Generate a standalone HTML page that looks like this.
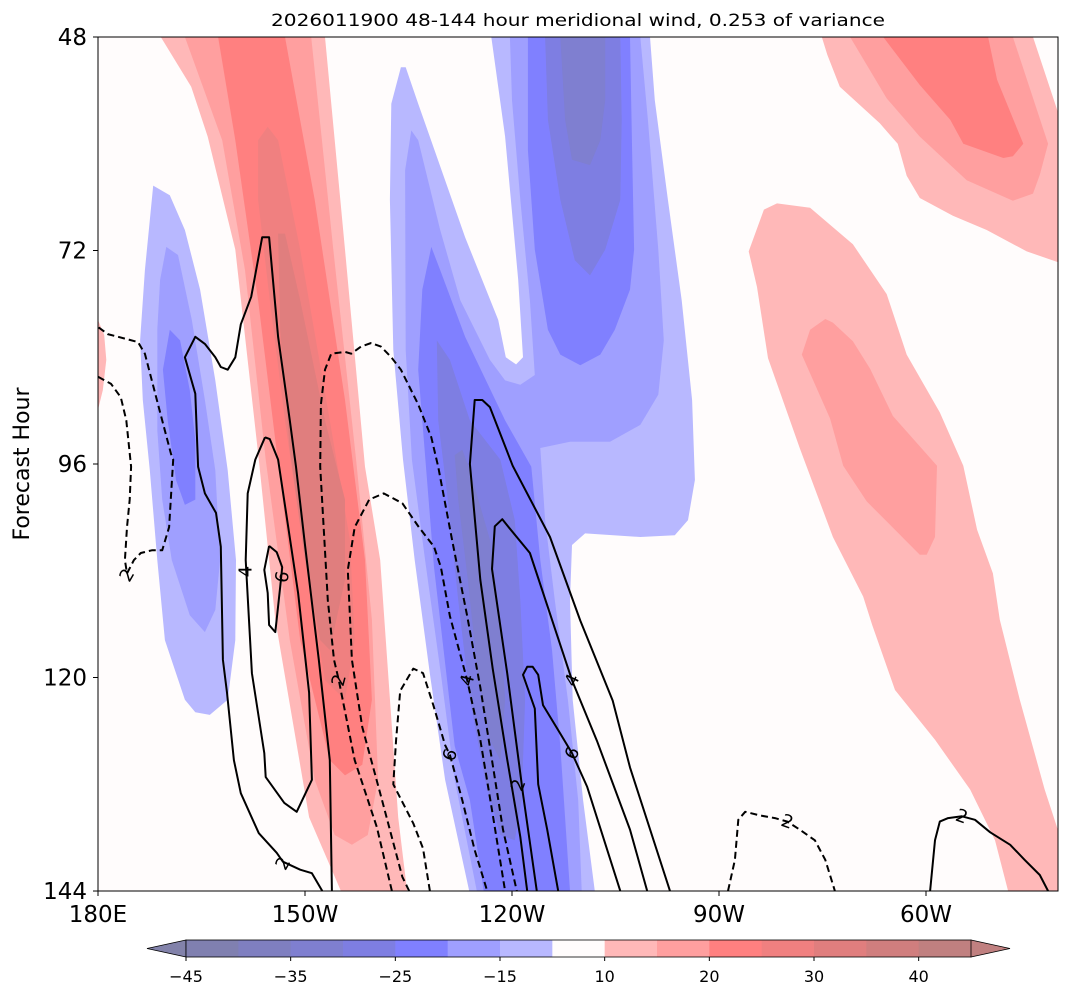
<!DOCTYPE html>
<html><head><meta charset="utf-8"><style>
body{margin:0;background:#fff;}
svg{display:block;font-family:"DejaVu Sans","Liberation Sans",sans-serif;}
</style></head><body>
<svg id="chart" width="1069" height="997" viewBox="0 0 1069 997" xmlns="http://www.w3.org/2000/svg">
<defs><clipPath id="plotclip"><rect x="98" y="37" width="960" height="854"/></clipPath></defs>
<rect x="98" y="37" width="960" height="854" fill="#fffcfc"/>
<g id="fills" clip-path="url(#plotclip)"></g>
<g id="lines" clip-path="url(#plotclip)"></g>
<g id="labels"></g>
<rect x="98" y="37" width="960" height="854" fill="none" stroke="#000" stroke-width="1"/>
<text x="578" y="26" text-anchor="middle" font-size="17" textLength="614" lengthAdjust="spacingAndGlyphs">2026011900 48-144 hour meridional wind, 0.253 of variance</text>
<text transform="translate(29,464) rotate(-90)" text-anchor="middle" font-size="22">Forecast Hour</text>
<g id="axes"></g>
<g id="cbar"></g>
</svg>
<script>
// ---- axis data ----
const xTickValues = [180, 210, 240, 270, 300];
const xTickLabels = ["180E", "150W", "120W", "90W", "60W"];
const yTickValues = [48, 72, 96, 120, 144];
const yTickLabels = ["48", "72", "96", "120", "144"];
const cbarLevels = [-45,-40,-35,-30,-25,-20,-15,-10,10,15,20,25,30,35,40,45];
const cbarTickValues = [-45,-35,-25,-15,10,20,30,40];
const cbarColors = ["#8080b0","#7f7fc0","#7f7fd0","#7e7ee2","#8080ff","#9f9fff","#b8b8ff","#fffcfc","#ffb8b8","#ff9f9f","#ff8080","#f08080","#e07e7e","#d07e7e","#c08080"];

// ---- filled contour polygons (lon, hour), with level index into cbarColors ----
const redBandL1 = [[189.1,48],[212.9,48],[215.8,71.9],[218.7,96.3],[220.9,106.8],[223.5,135.7],[224.8,144],[215.2,144],[210.6,135.7],[205.7,113.5],[203.3,95.5],[199.9,71.9],[195.9,59.2],[193.5,53.6]];
const redBandL2 = [[192.6,48],[210.9,48],[214.1,71.9],[217.4,95.5],[219.7,113.5],[220.6,131.5],[219.1,137.7],[216.8,138.8],[214.3,137.7],[211.4,131.5],[207.8,115.8],[204.3,95.5],[201.3,74.2],[198,59.6]];
const redBandL3 = [[197.4,48],[207.1,48],[211.4,66.3],[215.8,88.8],[218.7,106.8],[219.7,122.5],[218.3,129.8],[215.8,131],[213.6,129.3],[209.3,115.8],[206.4,97.8],[203.2,77.6],[199.9,59.6]];
const redBandL4 = [[203.2,59.6],[204.6,58.1],[206.1,59.6],[209.3,71.9],[213.6,91.1],[216.5,104.5],[217.2,115.8],[215.8,122.5],[212.9,120.3],[210,106.8],[207.1,91.1],[204.9,77.6],[203.2,66.3]];
const redBandL5 = [[206.1,70.1],[207.1,70.1],[209.3,77.6],[212.9,91.1],[215.8,100],[215.8,109],[213.6,116.9],[212.2,115.8],[210,106.8],[207.8,94.4],[206.4,80.9]];
const redEdgeL1 = [[180,79.8],[180.9,81.5],[181.2,84.3],[180.7,87.7],[180,89.9]];
const blueWestL1 = [[188,64.7],[190.4,65.8],[192.6,69.7],[194.8,76.4],[197,86.6],[198.8,96.7],[200,106.8],[199.9,115.8],[198.8,122.5],[196.2,124.2],[194.1,123.9],[192.6,122.5],[189.7,115.8],[188.6,106.8],[187.5,96.7],[186.5,88.8],[186.1,82.1],[186.8,74.2]];
const blueWestL2 = [[189.9,71.6],[191.6,72.5],[193.6,79.8],[195.5,88.8],[197,96.7],[197.7,106.8],[197,112.4],[195.5,114.9],[193.3,113],[190.7,106.8],[189.3,100],[188.6,92.2],[188.6,80.9],[189,75.3]];
const blueWestL3 = [[190.4,80.9],[191.9,82.1],[193.3,87.7],[194.1,93.3],[194.1,100],[192.6,100.6],[191.3,97.8],[190.1,91.1],[189.4,85.4]];
const blueMidL1 = [[237,48],[260,48],[260.7,55.1],[262.6,66.3],[264.6,77.6],[266.1,88.8],[266.5,97.8],[265.5,102.3],[263.6,104],[258.6,104.2],[250.6,103.8],[248.7,105.1],[248.4,111.3],[248.8,122.5],[250.3,133.8],[252,144],[233.8,144],[230.3,131.5],[228.1,119.6],[225.9,106.8],[224.2,95.5],[222.8,83.2],[222.3,66.3],[222.5,55.5],[223.9,51.4],[224.6,51.4],[226.4,55.5],[230.3,64.1],[233.2,70.5],[238,79.8],[239.1,84],[240.6,84.8],[241.6,84],[240.9,75.3],[239,59.2]];
const blueMidL2 = [[239.7,48],[258.6,48],[259.7,57.3],[261.2,71.9],[262,82.1],[261.2,88.2],[258.6,91.6],[254.2,93.5],[248.4,93.5],[244.1,94.2],[244.8,102.3],[246.2,111.3],[248.1,122.5],[249.6,133.8],[250.1,144],[234.9,144],[231.7,131.5],[229.7,119.6],[227.4,106.8],[225.5,95.5],[224.6,83.2],[224.5,63],[225.4,58.5],[226.4,59.6],[229.6,69.7],[232.5,77.6],[236.8,84.3],[239,86.6],[241.2,87.1],[243.3,86],[242.6,77.6],[241.2,66.3],[240,55.1]];
const blueTopL3 = [[242.3,48],[257.1,48],[257.4,60.7],[257.7,71.9],[257.1,76.4],[254.9,80.9],[252.8,83.7],[249.9,84.9],[247,83.7],[245.2,80.9],[243.3,71.9],[242.3,60.7]];
const blueTopL4 = [[244.8,48],[255.7,48],[255.9,57.3],[255.7,66.3],[253.5,71.9],[251.3,74.8],[249.1,73.1],[247,66.3],[245.2,57.3]];
const blueTopL5 = [[247,48],[253.5,48],[253.5,55.1],[252.8,59.6],[251.3,62.4],[248.7,61.8],[247.7,57.3]];
const blueDiagL3 = [[228.3,71.6],[229.6,74.2],[233.2,81.7],[239,91.1],[242.8,96.3],[244.1,106.8],[245.8,116.9],[247,127.7],[248.4,144],[235.9,144],[233.9,133.8],[231.7,127.7],[228.7,107.6],[226.4,85.4],[227,76.4]];
const blueDiagL4 = [[229.1,82.1],[231,84.3],[233.9,91.1],[238.3,95.5],[240.4,102.3],[241.2,111.3],[241.9,122.5],[241.4,133.8],[240.4,138.3],[238.3,137.7],[236.1,131.5],[233.9,122.5],[232.2,111.3],[230.7,100],[229.3,91.1]];
const blueDiagL5 = [[231.7,95],[232.8,94.4],[233.9,96.7],[236.8,104.5],[238.3,113.5],[239,122.5],[238.3,129.3],[236.8,127],[235.1,120],[233.6,109],[232.2,100]];
const redNEL1 = [[284.9,48],[315.5,48],[319.1,56.4],[319.1,73.3],[314.6,72.1],[308.8,69.7],[303.9,68.1],[299.1,66.1],[297.2,63.6],[295.9,60],[293.3,57.7],[287.5,53.6],[285.7,50]];
const redNEL2 = [[289,48],[312.6,48],[317.7,60],[316.5,63.5],[315.5,65.6],[312.6,66.4],[305.9,64.1],[299.1,59.2],[294.3,54.9]];
const redNEL3 = [[293.8,48],[309,48],[310.3,52.8],[314.1,60],[312.6,61.4],[311.2,61.6],[305.4,60],[303.5,57.3],[299.1,53.4]];
const redEastL1 = [[274.3,72.1],[276.5,67.4],[278.4,66.7],[283.2,67.2],[289.4,71.3],[294.3,76.9],[297.2,83.7],[302,90.2],[305.4,96.2],[307.4,103.4],[309.7,108.3],[310.7,113.5],[313.6,122.5],[317.2,132.6],[319.1,137.1],[319.1,144],[311.9,144],[310,138.3],[306.4,132.6],[301.3,127],[295.5,121.4],[292.2,114.1],[290.9,110.9],[286.5,104.2],[281.7,94.2],[277.1,84.1],[275.5,76.1]];
const redEastL2 = [[285.4,79.7],[283.2,80.9],[282,83.7],[286.1,90.9],[288,96.2],[291.4,100.2],[299.1,106.2],[300.1,106.2],[301.3,104.2],[301.6,96.2],[295.2,90.6],[291.9,85.3],[289.4,82.2],[286.5,80.1]];

const fillPolys = [
  ["red-band-10", 8, redBandL1], ["red-band-15", 9, redBandL2], ["red-band-20", 10, redBandL3],
  ["red-band-25", 11, redBandL4], ["red-band-30", 12, redBandL5], ["red-edge-10", 8, redEdgeL1],
  ["blue-west-10", 6, blueWestL1], ["blue-west-15", 5, blueWestL2], ["blue-west-20", 4, blueWestL3],
  ["blue-mid-10", 6, blueMidL1], ["blue-mid-15", 5, blueMidL2],
  ["blue-top-20", 4, blueTopL3], ["blue-top-25", 3, blueTopL4], ["blue-top-30", 2, blueTopL5],
  ["blue-diag-20", 4, blueDiagL3], ["blue-diag-25", 3, blueDiagL4], ["blue-diag-30", 2, blueDiagL5],
  ["red-ne-10", 8, redNEL1], ["red-ne-15", 9, redNEL2], ["red-ne-20", 10, redNEL3],
  ["red-east-10", 8, redEastL1], ["red-east-15", 9, redEastL2]
];

// ---- line contours (lon, hour) ----
const solidTall = [[212.5,144],[211,142],[209.3,141.6],[206.8,140.7],[205.9,139.7],[203.3,137.5],[200.7,133],[199.7,129.3],[198.7,121.7],[198.1,118],[197.8,105.3],[197.1,101.5],[195.5,99.3],[194.5,96.3],[194.1,88.1],[192.6,84],[194.1,81.7],[195.5,82.5],[197,84],[197.8,85.1],[198.8,85.4],[199.9,84],[200.7,80.3],[202.2,77.2],[203.8,70.5],[204.8,70.5],[206.1,81.7],[207.8,91.1],[208.7,96.3],[210,105.1],[212,118],[213.6,129.3],[213.9,144]];
const solidLoop4 = [[204.2,93],[204.9,93.2],[206.1,95.5],[209,110.5],[210.6,121.7],[211,131.5],[208.8,135.1],[207,134.1],[204.3,131.2],[204.1,128.5],[202.3,119.5],[201.4,106.8],[201.7,99.3],[202.8,95.5],[204.2,93]];
const solidLoop6 = [[204.8,105.2],[205.9,105.9],[206.7,107.6],[206.4,109.8],[205.7,114.9],[204.8,114.1],[204.6,110.5],[204.1,107.9],[204.8,105.2]];
const solidMid2 = [[242.2,144],[241.2,137.9],[239.3,129.2],[237.2,119],[235.4,109],[233.9,96],[234.6,88.8],[235.7,88.8],[236.8,89.6],[240.1,96.2],[245.5,104.2],[249.9,113.6],[254.6,122.6],[257.1,130.1],[262.9,144]];
const solidMid4 = [[243.6,144],[241.6,133.1],[239.3,119.5],[237.1,107.8],[237.5,103],[238.6,102.2],[239.4,103],[242.6,106],[248.7,120.3],[252.3,127.1],[257.1,137.1],[259.6,144]];
const solidMid6 = [[246.7,144],[245.1,137.1],[243.8,132],[243.3,123.5],[241.6,119.7],[242.2,118.8],[243,118.8],[243.8,119.7],[244.5,123.1],[247,126.3],[248.7,128.5],[250.9,132.3],[255.7,144]];
const solidEast = [[300.6,144],[301.3,138.3],[302,136.2],[303.2,135.8],[305.2,135.6],[307.1,136],[309.3,137.4],[312.2,138.8],[314.3,140.5],[316.5,142.2],[317.7,144]];
const dashWest = [[180,86.2],[181.9,87],[183.3,88.5],[184.1,91.1],[184.8,96.3],[184.6,100],[184.2,103.1],[183.9,106.8],[184.2,108.3],[185.2,106.8],[186.2,106],[187.8,105.7],[189.3,105.7],[190.3,103.1],[190.9,95.5],[190.6,94.9],[188.7,89.3],[186.8,83.6],[185.8,82.3],[182.9,81.7],[181.4,81.4],[180,80.6]];
const dashArch2 = [[222.6,144],[220.4,136.8],[217.2,129.3],[214.9,120.3],[214.2,118],[213.3,111.3],[212.2,96.3],[212.3,89.3],[212.9,85.4],[213.8,83.6],[215.8,83.4],[216.7,83.6],[218.1,82.8],[219.6,82.4],[221,82.8],[222.5,84],[223.9,85.4],[226.4,89.3],[228.3,93],[229.3,96.3],[231.3,104.5],[233.5,113.1],[235.4,121.1],[237.1,129.3],[238.7,137.1],[240.7,144]];
const dashArch4 = [[225.1,144],[224.1,142.4],[220.9,133],[218.3,125.6],[216.8,118],[216.2,107.9],[217.2,103.1],[219.3,100],[221.4,99.3],[224.1,100.4],[226.5,103.1],[228.7,105.3],[229.7,107.6],[231,113.1],[233.5,120.3],[235.4,127],[237.1,134.9],[239,144]];
const dashArch6 = [[228.1,144],[227.1,139.2],[225.7,136.4],[222.8,132],[223.2,127],[223.8,121.5],[225.7,119],[227.1,119.5],[228.6,123.1],[230.3,127.6],[231,128.7],[232.8,133.8],[234.6,139.4],[236.4,144]];
const dashEast = [[271.3,144],[272.3,140.5],[272.8,136],[273.8,135.1],[275.9,135.5],[278.1,135.8],[279.9,136.2],[281.7,137.1],[283.9,138.3],[285.4,140.5],[286.8,144]];

const lineSet = [
  ["contour-solid-tall", false, solidTall], ["contour-solid-loop-4", false, solidLoop4], ["contour-solid-loop-6", false, solidLoop6],
  ["contour-solid-mid-2", false, solidMid2], ["contour-solid-mid-4", false, solidMid4], ["contour-solid-mid-6", false, solidMid6],
  ["contour-solid-east", false, solidEast], ["contour-dash-west", true, dashWest], ["contour-dash-arch-2", true, dashArch2],
  ["contour-dash-arch-4", true, dashArch4], ["contour-dash-arch-6", true, dashArch6], ["contour-dash-east", true, dashEast]
];

// contour label text, position (lon,hour), rotation
const labelTexts = ["2","4","6","2","4","6","2","2","2","4","6","2"];
const labelLons  = [206.8,201.4,206.7,240.9,248.7,248.7,305.2,184.2,214.9,233.5,231,279.9];
const labelHours = [140.9,108.1,108.7,132.1,120.3,128.5,135.6,108.5,120.3,120.3,128.7,136.2];
const labelRot   = [-60,-90,-80,-70,-65,-60,20,-60,-75,-75,-70,20];

// ---- scales ----
const X0 = 98, PXPERDEG = 6.9, Y0 = 37, PXPERH = 8.896;
const xs = lon => X0 + (lon - 180) * PXPERDEG;
const ys = h => Y0 + (h - 48) * PXPERH;
const NS = "http://www.w3.org/2000/svg";
const mk = (tag, attrs, parent) => { const e = document.createElementNS(NS, tag); for (const k in attrs) e.setAttribute(k, attrs[k]); parent.appendChild(e); return e; };
const pts = arr => arr.map(p => xs(p[0]).toFixed(1) + "," + ys(p[1]).toFixed(1)).join(" ");

const gF = document.getElementById("fills");
fillPolys.forEach(([name, lvl, arr]) => {
  const e = mk("polygon", {points: pts(arr), fill: cbarColors[lvl]}, gF);
  
  
});
const gL = document.getElementById("lines");
lineSet.forEach(([name, dashed, arr]) => {
  const a = {points: pts(arr), fill: "none", stroke: "#000", "stroke-width": 2, "stroke-linejoin": "round"};
  if (dashed) a["stroke-dasharray"] = "7,4";
  const e = mk("polyline", a, gL);
  
  
});
const gLb = document.getElementById("labels");
labelTexts.forEach((t, i) => {
  const x = xs(labelLons[i]), y = ys(labelHours[i]);
  const e = mk("text", {x: x, y: y + 6, "text-anchor": "middle", "font-size": 18, transform: `rotate(${labelRot[i]} ${x} ${y})`}, gLb);
  e.textContent = t;
  
  
});

// ---- axes ----
const gA = document.getElementById("axes");
xTickValues.forEach((v, i) => {
  const x = xs(v);
  const t = mk("line", {x1: x, x2: x, y1: 891, y2: 896, stroke: "#000"}, gA);
  
  
  const l = mk("text", {x: x, y: 922, "text-anchor": "middle", "font-size": 23}, gA);
  l.textContent = xTickLabels[i];
  
  
});
yTickValues.forEach((v, i) => {
  const y = ys(v);
  const t = mk("line", {x1: 93, x2: 98, y1: y, y2: y, stroke: "#000"}, gA);
  
  
  const l = mk("text", {x: 87, y: y + 8, "text-anchor": "end", "font-size": 23}, gA);
  l.textContent = yTickLabels[i];
  
  
});

// ---- colorbar ----
const gC = document.getElementById("cbar");
const CB0 = 186, CBW = 785, CBY = 940, CBH = 17;
const nSeg = cbarLevels.length - 1;
const segW = CBW / nSeg;
const tl = mk("polygon", {points: `${CB0},${CBY} ${CB0},${CBY+CBH} 147,${CBY+CBH/2}`, fill: "#8282aa", stroke: "#000", "stroke-width": 0.8}, gC);


const tr = mk("polygon", {points: `${CB0+CBW},${CBY} ${CB0+CBW},${CBY+CBH} 1010,${CBY+CBH/2}`, fill: "#c08080", stroke: "#000", "stroke-width": 0.8}, gC);


for (let i = 0; i < nSeg; i++) {
  const r = mk("rect", {x: CB0 + i * segW, y: CBY, width: segW + 0.5, height: CBH, fill: cbarColors[i]}, gC);
  
  
}
const fr = mk("rect", {x: CB0, y: CBY, width: CBW, height: CBH, fill: "none", stroke: "#000", "stroke-width": 0.8}, gC);


cbarTickValues.forEach(v => {
  const x = CB0 + cbarLevels.indexOf(v) * segW;
  const t = mk("line", {x1: x, x2: x, y1: CBY + CBH, y2: CBY + CBH + 4, stroke: "#000"}, gC);
  
  
  const l = mk("text", {x: x, y: 982, "text-anchor": "middle", "font-size": 16}, gC);
  l.textContent = v < 0 ? "\u2212" + Math.abs(v) : String(v);
  
  
});
</script>
</body></html>
